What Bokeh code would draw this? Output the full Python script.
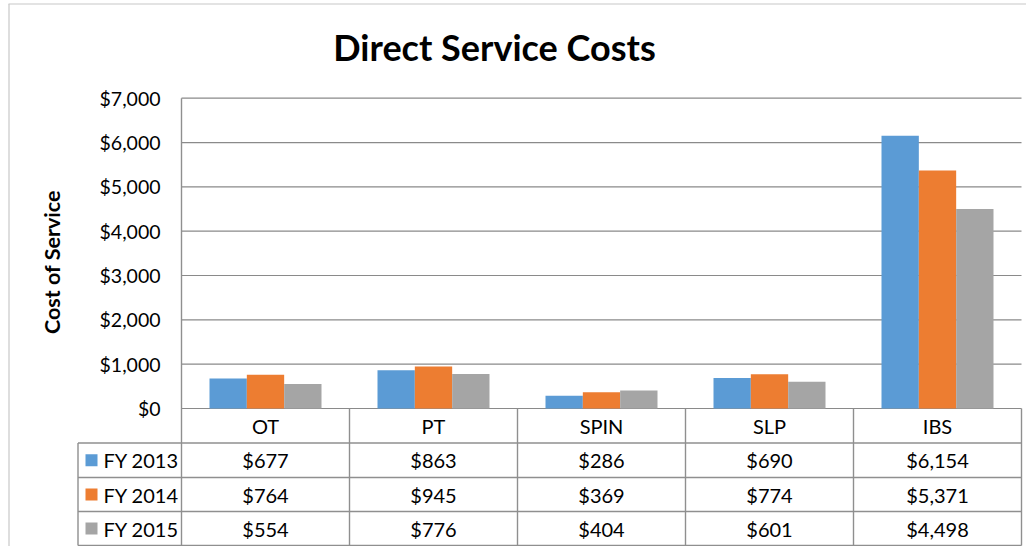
import math
from bokeh.plotting import figure
from bokeh.models import Range1d, ColumnDataSource
from bokeh.core.properties import value
from bokeh.embed import file_html
from bokeh.resources import INLINE

# ---------------- data ----------------
categories = ["OT", "PT", "SPIN", "SLP", "IBS"]
series_names = ["FY 2013", "FY 2014", "FY 2015"]
fy2013 = [677, 863, 286, 690, 6154]
fy2014 = [764, 945, 369, 774, 5371]
fy2015 = [554, 776, 404, 601, 4498]
series_values = [fy2013, fy2014, fy2015]
colors = ["#5B9BD5", "#ED7D31", "#A5A5A5"]
y_ticks = [0, 1000, 2000, 3000, 4000, 5000, 6000, 7000]
y_tick_labels = ["$0", "$1,000", "$2,000", "$3,000", "$4,000", "$5,000", "$6,000", "$7,000"]
title_text = "Direct Service Costs"
y_label = "Cost  of Service"

# ---------------- layout (canvas pixels) ----------------
W, H = 1026, 546
PLOT_L, PLOT_R = 181, 1021
Y0_PX, YMAX_PX = 408.0, 97.7
CAT_W = (PLOT_R - PLOT_L) / len(categories)
S = (Y0_PX - YMAX_PX) / y_ticks[-1]


def xd(px):
    return (px - PLOT_L) / CAT_W - 0.5


def yd(py):
    return (Y0_PX - py) / S


p = figure(width=W, height=H, output_backend="svg", toolbar_location=None,
           x_range=Range1d(xd(0), xd(W)),
           y_range=Range1d(yd(H), yd(0)),
           x_axis_type=None, y_axis_type=None, min_border=0)
p.outline_line_color = None
p.xgrid.visible = False
p.ygrid.visible = False
p.background_fill_color = "white"
p.border_fill_color = "white"

FONT = value("Lato")
GRID_C = "#8a8a8a"
n = len(categories)
x_left, x_right = -0.5, n - 0.5

# outer chart border (left and top visible)
p.segment(x0=[xd(8.5), xd(8)], y0=[yd(H), yd(3.5)], x1=[xd(8.5), xd(W)], y1=[yd(3.5), yd(3.5)],
          line_color="#c8c8c8", line_width=1.2)

# gridlines
p.segment(x0=[x_left] * len(y_ticks), x1=[x_right] * len(y_ticks), y0=y_ticks, y1=y_ticks,
          line_color=GRID_C, line_width=1.2)

# bars
bw = 1 / 4.5
for k, (name, vals, c) in enumerate(zip(series_names, series_values, colors)):
    src = ColumnDataSource(dict(x=[i + (k - 1) * bw for i in range(n)], top=vals))
    p.vbar(x="x", top="top", bottom=0, width=bw, source=src, fill_color=c, line_color=None)

# y tick labels
p.text(x=[xd(160)] * len(y_ticks), y=y_ticks, text=y_tick_labels, text_font=FONT,
       text_font_size="19.5px", text_align="right", text_baseline="middle", text_color="#000000")

# y axis label
p.text(x=[xd(51)], y=[yd(259)], text=[y_label], angle=math.pi / 2, text_font=FONT,
       text_font_size="21.5px", text_font_style="bold", text_align="center", text_baseline="middle",
       text_color="#000000")

# title
p.text(x=[xd(494)], y=[yd(46)], text=[title_text], text_font=FONT, text_font_size="36px",
       text_font_style="bold", text_align="center", text_baseline="middle", text_color="#000000")

# ---------------- data table ----------------
row_edges_px = [408, 442.5, 477, 511, 545]
row_edges = [yd(v) for v in row_edges_px]
TABLE_L = xd(77.5)
TABLE_C = "#8f8f8f"

# axis line extending through table
p.segment(x0=[x_left], x1=[x_left], y0=[y_ticks[-1]], y1=[row_edges[-1]], line_color=TABLE_C, line_width=1.4)
# category dividers
p.segment(x0=[i + 0.5 for i in range(n)], x1=[i + 0.5 for i in range(n)],
          y0=[0] * n, y1=[row_edges[-1]] * n, line_color=TABLE_C, line_width=1.4)
# left border of legend column
p.segment(x0=[TABLE_L], x1=[TABLE_L], y0=[row_edges[1]], y1=[row_edges[-1]], line_color=TABLE_C, line_width=1.4)
# horizontal row lines
p.segment(x0=[TABLE_L] * 4, x1=[x_right] * 4, y0=row_edges[1:], y1=row_edges[1:],
          line_color=TABLE_C, line_width=1.4)

# header
hdr_y = (row_edges[0] + row_edges[1]) / 2
p.text(x=list(range(n)), y=[hdr_y] * n, text=categories, text_font=FONT, text_font_size="20px",
       text_align="center", text_baseline="middle", text_color="#000000")

# rows
for r, (name, vals, c) in enumerate(zip(series_names, series_values, colors)):
    cy = (row_edges[r + 1] + row_edges[r + 2]) / 2
    p.text(x=list(range(n)), y=[cy] * n, text=[f"${v:,}" for v in vals], text_font=FONT,
           text_font_size="20px", text_align="center", text_baseline="middle", text_color="#000000")
    p.rect(x=[xd(91)], y=[cy], width=12, height=12, width_units="screen", height_units="screen",
           fill_color=c, line_color=None)
    p.text(x=[xd(103)], y=[cy], text=[name], text_font=FONT, text_font_size="20px",
           text_align="left", text_baseline="middle", text_color="#000000")

open("out.html", "w").write(file_html(p, INLINE))
